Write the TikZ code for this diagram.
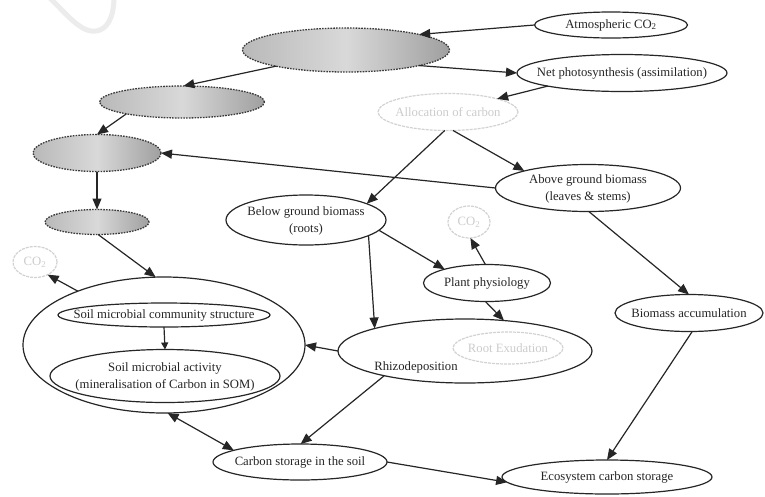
\documentclass[tikz,border=0pt]{standalone}
\usepackage{fontspec}
\setmainfont{Liberation Serif}
\usetikzlibrary{shapes.geometric,arrows.meta}
\begin{document}
\begin{tikzpicture}[x=1pt,y=-1pt,
  every node/.style={inner sep=0pt, outer sep=0pt},
  ell/.style={ellipse, draw=black!85, line width=1.2pt, fill=white},
  faint/.style={ellipse, draw=gray!35, line width=1.2pt, dash pattern=on 3pt off 1pt},
  cloud/.style={ellipse, draw=gray!45!black, line width=1.3pt, dash pattern=on 1.6pt off 1.2pt,
     left color=gray!55, right color=gray!75, middle color=gray!30},
  lbl/.style={font=\fontsize{12.7}{17}\selectfont, text=black!85, align=center},
  flbl/.style={lbl, text=gray!40},
  arr/.style={draw=black!85, line width=1.2pt, -{Triangle[length=11pt,width=9pt]}},
]
\fill[white] (0,0) rectangle (765,496);
\useasboundingbox (0,0) rectangle (765,496);
% faint mark
\draw[gray!15, line width=5pt, line cap=round] (50,-2) .. controls (70,18) and (84,36) .. (100,30) .. controls (110,26) and (114,12) .. (114,-2);

% grey clouds
\node[cloud, minimum width=207, minimum height=44] (ga) at (346,50) {};
\node[cloud, minimum width=165, minimum height=32] (gb) at (182,102) {};
\node[cloud, minimum width=128, minimum height=37] (gc) at (97,153) {};
\node[cloud, minimum width=104, minimum height=25] (gd) at (97,222) {};

% main nodes
\node[ell, minimum width=153, minimum height=26] (atm) at (611,25) {};
\node[lbl] (atmt) at (611,25) {Atmospheric CO\textsubscript{2}};
\node[ell, minimum width=210, minimum height=37] (net) at (622,73) {};
\node[lbl] (nett) at (622,73) {Net photosynthesis (assimilation)};
\node[faint, minimum width=140, minimum height=37] (alloc) at (448,112) {};
\node[flbl] (allt) at (448,112) {Allocation of carbon};
\node[ell, minimum width=185, minimum height=47] (above) at (588,188) {};
\node[lbl] (abovet) at (588,189) {Above ground biomass\\(leaves \& stems)};
\node[ell, minimum width=160, minimum height=50] (below) at (306,220) {};
\node[lbl] (belowt) at (306,221) {Below ground biomass\\(roots)};
\node[faint, minimum width=42, minimum height=32] (co2m) at (469,222) {};
\node[flbl] (co2mt) at (469,222) {CO\textsubscript{2}};
\node[faint, minimum width=44, minimum height=31] (co2l) at (35,262) {};
\node[flbl] (co2lt) at (35,262) {CO\textsubscript{2}};
\node[ell, minimum width=127, minimum height=37] (plant) at (487,283) {};
\node[lbl] (plantt) at (487,283) {Plant physiology};
\node[ell, minimum width=148, minimum height=37] (bio) at (689,313) {};
\node[lbl] (biot) at (689,313) {Biomass accumulation};
\node[ell, minimum width=282, minimum height=136] (soil) at (164,345) {};
\node[ell, minimum width=212, minimum height=24] (comm) at (164,315) {};
\node[lbl] (commt) at (164,315) {Soil microbial community structure};
\node[ell, minimum width=230, minimum height=53] (act) at (165,376) {};
\node[lbl] (actt) at (165,377) {Soil microbial activity\\(mineralisation of Carbon in SOM)};
\node[ell, minimum width=254, minimum height=64] (rhizo) at (465,351) {};
\node[faint, minimum width=110, minimum height=32] (root) at (508,348) {};
\node[flbl] (roott) at (508,348) {Root Exudation};
\node[lbl] (rhizot) at (416,367) {Rhizodeposition};
\node[ell, minimum width=174, minimum height=36] (carbon) at (300,462) {};
\node[lbl] (carbont) at (300,462) {Carbon storage in the soil};
\node[ell, minimum width=210, minimum height=34] (eco) at (607,477) {};
\node[lbl] (ecot) at (607,477) {Ecosystem carbon storage};

% connectors
\draw[arr] (atm.west) -- (ga.12);
\draw[arr] (ga.-12) -- (net.west);
\draw[arr] (net.190) -- (alloc.15);
\draw[arr] (ga.193) -- (gb.85);
\draw[arr] (gb.192) -- (gc.north);
\draw[arr] (gc.south) -- (gd.north);
\draw[arr] (gd.-85) -- (soil.97);
\draw[arr] (soil.148) -- (co2l.-45);
\draw[arr] (above.west) -- (gc.east);
\draw[arr] (alloc.-100) -- (below.15);
\draw[arr] (alloc.-75) -- (above.165);
\draw[arr] (above.-88) -- (bio.north);
\draw[arr] (bio.-80) -- (eco.north);
\draw[arr] (below.-14) -- (rhizo.166);
\draw[arr] (below.-8) -- (plant.162);
\draw[arr] (plant.95) -- (co2m.-85);
\draw[arr] (plant.-95) -- (rhizo.38);
\draw[arr] (rhizo.west) -- (soil.east);
\draw[arr] (rhizo.197) -- (carbon.88);
\draw[arr, {Triangle[length=11pt,width=9pt]}-{Triangle[length=11pt,width=9pt]}] (soil.-87) -- (carbon.170);
\draw[arr, -{Triangle[length=7pt,width=7pt]}] (comm.south) -- (act.north);
\draw[arr] (carbon.east) -- (eco.183);
\end{tikzpicture}
\end{document}
